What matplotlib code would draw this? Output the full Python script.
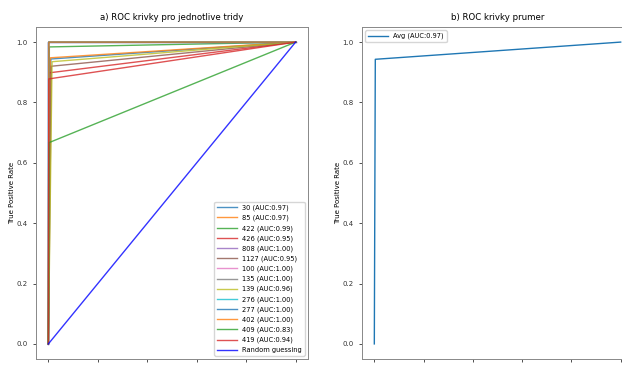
import numpy as np
import matplotlib.pyplot as plt

# per-class ROC points (binary predictions -> one operating point per class)
classes = ['30', '85', '422', '426', '808', '1127', '100', '135', '139', '276', '277', '402', '409', '419']
fpr_pts = [0.010, 0.008, 0.004, 0.002, 0.001, 0.012, 0.000, 0.002, 0.015, 0.001, 0.000, 0.002, 0.003, 0.002]
tpr_pts = [0.944, 0.948, 0.984, 0.898, 1.000, 0.920, 1.000, 1.000, 0.935, 1.000, 1.000, 1.000, 0.667, 0.878]
auc_vals = [0.97, 0.97, 0.99, 0.95, 1.00, 0.95, 1.00, 1.00, 0.96, 1.00, 1.00, 1.00, 0.83, 0.94]

avg_fpr = [0.0, 0.004, 1.0]
avg_tpr = [0.0, 0.943, 1.0]
avg_auc = 0.97

ticks = [0.0, 0.2, 0.4, 0.6, 0.8, 1.0]

fig = plt.figure(figsize=(6.22, 3.65), dpi=100)
ax1 = fig.add_axes([36 / 622, 6 / 365, 272 / 622, 332 / 365])
ax2 = fig.add_axes([362 / 622, 6 / 365, 271 / 622, 332 / 365])

for i, c in enumerate(classes):
    ax1.plot([0, fpr_pts[i], 1], [0, tpr_pts[i], 1], color='C%d' % (i % 10), alpha=0.8,
             lw=1, label='%s (AUC:%.2f)' % (c, auc_vals[i]))
ax1.plot([0, 1], [0, 1], color='b', lw=1, alpha=0.8, label='Random guessing')
ax1.set_title('a) ROC krivky pro jednotlive tridy', fontsize=6.2, pad=5)
ax1.legend(loc='lower right', fontsize=4.8, handlelength=3, labelspacing=0.55)

ax2.plot(avg_fpr, avg_tpr, color='C0', lw=1, label='Avg (AUC:%.2f)' % avg_auc)
ax2.set_title('b) ROC krivky prumer', fontsize=6.2, pad=5)
ax2.legend(loc='upper left', fontsize=4.8, handlelength=3)

for ax in (ax1, ax2):
    ax.set_xlim(-0.05, 1.05)
    ax.set_ylim(-0.05, 1.05)
    ax.set_xticks(ticks)
    ax.set_yticks(ticks)
    ax.tick_params(labelsize=5, length=2.5, width=0.6, colors='#333333')
    ax.set_ylabel('True Positive Rate', fontsize=5, labelpad=1)
    for s in ax.spines.values():
        s.set_color('#888888')
        s.set_linewidth(0.7)

fig.savefig('out.png', dpi=100)
